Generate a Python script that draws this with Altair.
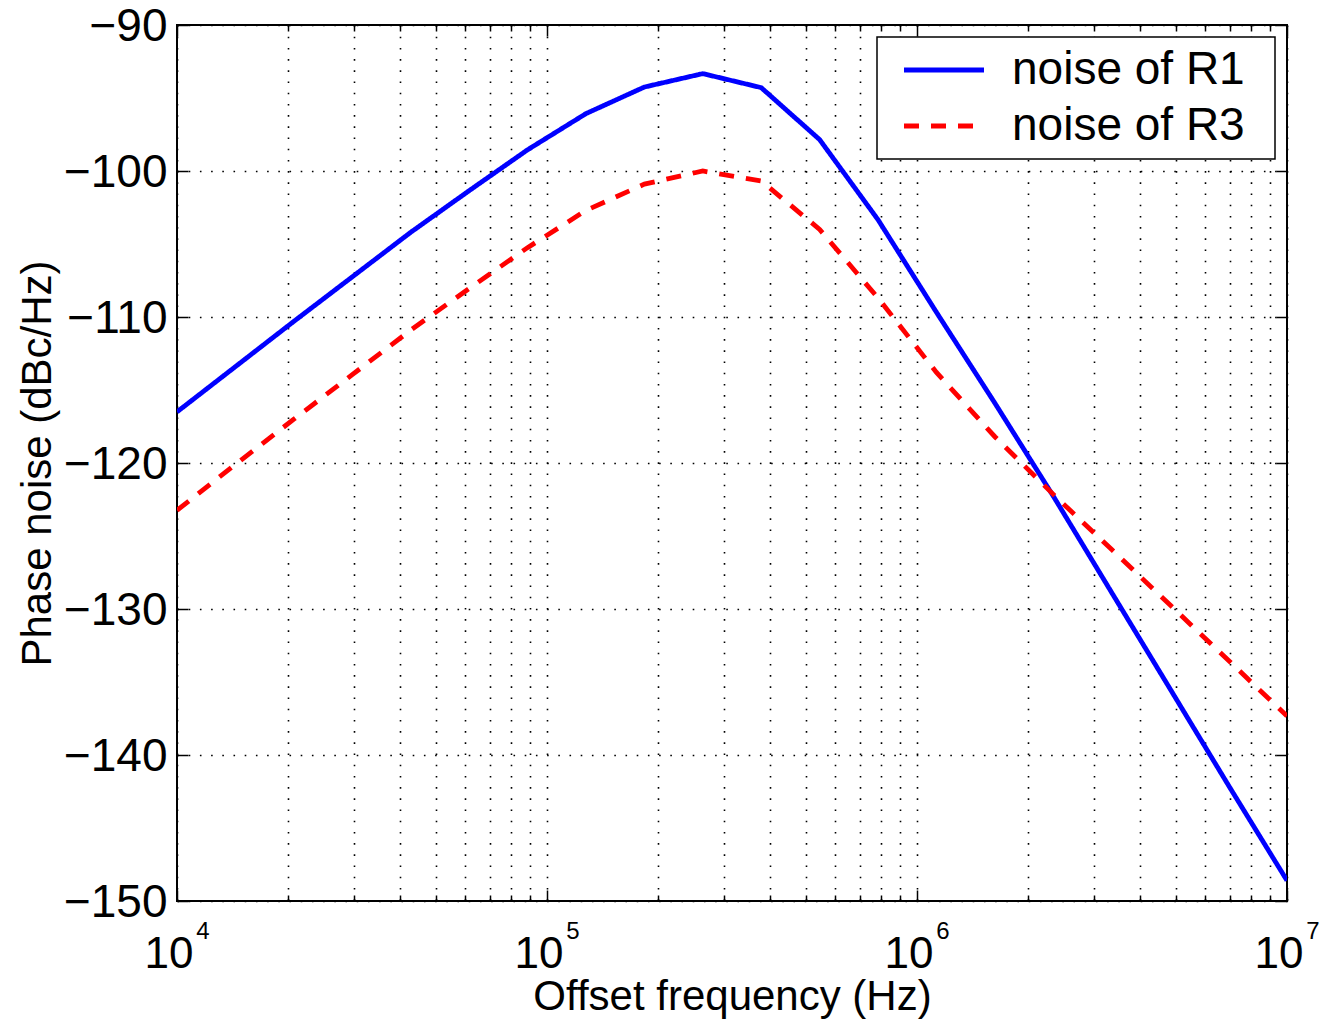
import altair as alt
import pandas as pd

# ---- data ----
freq_hz = [10000, 14384, 20691, 29764, 42813, 61585, 88587, 127427, 183298, 263665,
           379269, 545559, 784760, 1128838, 1623777, 2335721, 3359818, 4832930, 6951928, 10000000]
noise_r1 = [-116.5, -113.4, -110.3, -107.25, -104.2, -101.35, -98.55, -96.07, -94.25, -93.33,
            -94.29, -97.85, -103.34, -109.68, -115.9, -122.27, -128.88, -135.48, -142.09, -148.6]
noise_r3 = [-123.24, -120.1, -117.0, -113.95, -110.9, -108.05, -105.25, -102.7, -100.9, -100.0,
            -100.68, -104.0, -108.7, -113.8, -118.2, -122.15, -125.93, -129.73, -133.53, -137.33]
series_names = ["noise of R1", "noise of R3"]
series_colors = ["#0000ff", "#ff0000"]
series_dashes = [[1, 0], [15, 12]]

x_major = [10000, 100000, 1000000, 10000000]
x_base_label = "10"
x_exponents = ["4", "5", "6", "7"]
x_minor = [20000, 30000, 40000, 50000, 60000, 70000, 80000, 90000,
           200000, 300000, 400000, 500000, 600000, 700000, 800000, 900000,
           2000000, 3000000, 4000000, 5000000, 6000000, 7000000, 8000000, 9000000]
y_ticks = [-150, -140, -130, -120, -110, -100, -90]

x_title = "Offset frequency (Hz)"
y_title = "Phase noise (dBc/Hz)"

df = pd.DataFrame({
    "freq": freq_hz + freq_hz,
    "pn": noise_r1 + noise_r3,
    "series": [series_names[0]] * len(freq_hz) + [series_names[1]] * len(freq_hz),
})

FONT = "Liberation Sans"
xscale = alt.Scale(type="log", domain=[x_major[0], x_major[-1]], nice=False)
yscale = alt.Scale(domain=[y_ticks[0], y_ticks[-1]], nice=False)


def X(axis):
    return alt.X("freq:Q", scale=xscale, axis=axis)


def Y(axis):
    return alt.Y("pn:Q", scale=yscale, axis=axis)


MAJ = alt.ExprRef(expr="-11")
MIN = alt.ExprRef(expr="-6")

exp_expr = " : ".join(
    f"datum.value == {v} ? '{e}'" for v, e in zip(x_major, x_exponents)
) + " : ''"

ghost = alt.Chart(df).mark_line(strokeOpacity=0)

grid_kw = dict(grid=True, gridDash=[1.6, 9.6], gridColor="#000", gridWidth=1.6, gridOpacity=1,
               ticks=False, labels=False, domain=False, title=None, zindex=0)
grid = ghost.encode(
    x=X(alt.Axis(orient="bottom", values=x_major + x_minor, **grid_kw)),
    y=Y(alt.Axis(orient="left", values=y_ticks, **grid_kw)),
)

# an invisible title on the right of the legend entries widens the box like the reference
legend = alt.Legend(
    title=".", titleOrient="right", titleOpacity=0, titleFontSize=4, titlePadding=18,
    orient="top-right", offset=12,
    symbolType="M-4,0H4", symbolSize=400, symbolStrokeWidth=4.8,
    labelFontSize=46, labelFont=FONT, labelColor="#000", labelLimit=600,
    padding=10, symbolOffset=34, labelOffset=45, rowPadding=10,
    strokeColor="#000", fillColor="#ffffff",
)

lines = alt.Chart(df).mark_line(strokeWidth=4.8, clip=True).encode(
    x=X(alt.Axis(orient="bottom", values=x_major, labelExpr=f"'{x_base_label}'",
                 labelFontSize=44, labelPadding=66, labelBaseline="alphabetic", labelOffset=-8.5,
                 labelFlush=False, labelOverlap=False,
                 ticks=False, domain=False, grid=False,
                 title=x_title, titleFontSize=42, titleFontWeight="normal",
                 titleY=108, titleBaseline="alphabetic", zindex=1)),
    y=Y(alt.Axis(orient="left", values=y_ticks, labelFontSize=46, labelPadding=10, labelOffset=1,
                 labelFlush=False, labelOverlap=False,
                 ticks=False, domain=False, grid=False,
                 title=y_title, titleFontSize=42, titleFontWeight="normal",
                 titleX=-127, titleBaseline="alphabetic", zindex=1)),
    color=alt.Color("series:N", scale=alt.Scale(domain=series_names, range=series_colors), legend=legend),
    strokeDash=alt.StrokeDash("series:N", scale=alt.Scale(domain=series_names, range=series_dashes), legend=legend),
)

tick_kw = dict(labels=False, domain=False, grid=False, title=None, tickColor="#000", tickWidth=1.5, zindex=1)

exps = ghost.encode(
    x=X(alt.Axis(orient="bottom", values=x_major, labelExpr=exp_expr, labelFontSize=24,
                 labelPadding=37, labelBaseline="alphabetic", labelOffset=25.5,
                 labelFlush=False, labelOverlap=False,
                 ticks=False, domain=False, grid=False, title=None, zindex=1)),
    y=Y(alt.Axis(orient="right", values=y_ticks, tickSize=MAJ, **tick_kw)),
)

ticks_major = ghost.encode(
    x=X(alt.Axis(orient="bottom", values=x_major, tickSize=MAJ, **tick_kw)),
    y=Y(alt.Axis(orient="left", values=y_ticks, tickSize=MAJ, **tick_kw)),
)
ticks_minor_b = ghost.encode(
    x=X(alt.Axis(orient="bottom", values=x_minor, tickSize=MIN, **tick_kw)),
    y=Y(None),
)
ticks_top = ghost.encode(
    x=X(alt.Axis(orient="top", values=x_major, tickSize=MAJ, **tick_kw)),
    y=Y(None),
)
ticks_minor_t = ghost.encode(
    x=X(alt.Axis(orient="top", values=x_minor, tickSize=MIN, **tick_kw)),
    y=Y(None),
)

chart = (
    alt.layer(grid, lines, exps, ticks_major, ticks_minor_b, ticks_top, ticks_minor_t)
    .resolve_axis(x="independent", y="independent")
    .properties(
        width=1110, height=876,
        autosize=alt.AutoSizeParams(type="none"),
        padding={"left": 169, "top": 17, "right": 40, "bottom": 118},
        background="#ffffff",
    )
    .configure_view(stroke="#000", strokeWidth=2)
    .configure_axis(labelFont=FONT, titleFont=FONT, labelColor="#000", titleColor="#000")
    .configure_legend(strokeWidth=1.5)
)

chart.save("out.html", embed_options={"renderer": "svg", "actions": False})
